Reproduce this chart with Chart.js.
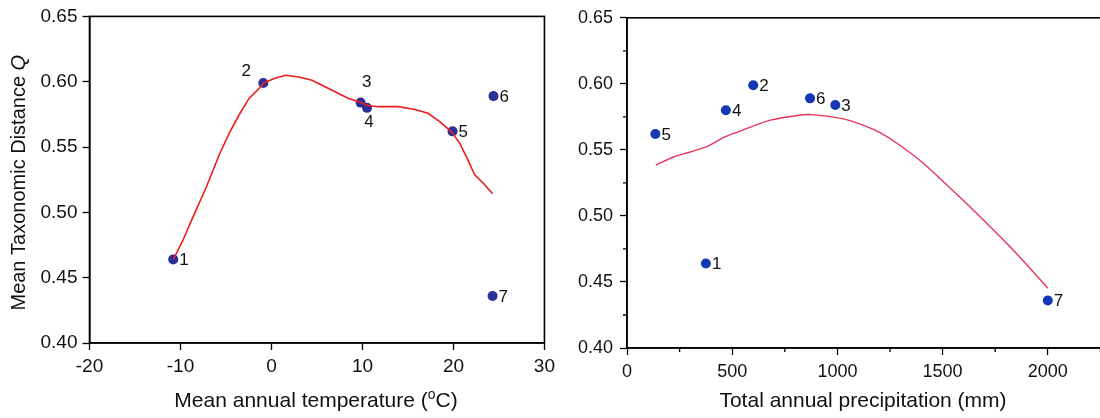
<!DOCTYPE html>
<html>
<head>
<meta charset="utf-8">
<script src="https://cdn.jsdelivr.net/npm/chart.js@4.4.1/dist/chart.umd.min.js"></script>
<style>
html,body{margin:0;padding:0;background:#fff;overflow:hidden;width:1100px;height:418px;position:relative}
#left{position:absolute;left:0;top:0}
#right{position:absolute;left:560px;top:0}
</style>
</head>
<body>
<canvas id="left" width="560" height="418"></canvas>
<canvas id="right" width="620" height="418"></canvas>
<script>
// ---- data ----
const siteIds = ['1','2','3','4','5','6','7'];
const siteQ = [0.464,0.599,0.584,0.580,0.562,0.589,0.436];
const siteTemp = [-10.8,-0.9,9.8,10.5,19.9,24.4,24.3];
const sitePrecip = [375,600,990,470,135,870,2000];

// fitted curves
const tempCurveX = [-10.76,-9.75,-8.66,-7.19,-5.74,-4.64,-3.55,-2.46,-1.37,-0.82,0.46,1.55,3.0,4.46,6.28,8.47,9.7,10.6,11.75,13.94,15.76,17.21,18.49,19.76,20.68,21.58,22.31,23.41,24.3];
const tempCurveQ = [0.4644,0.4783,0.496,0.5188,0.5441,0.5606,0.5747,0.5872,0.5948,0.5993,0.6029,0.6049,0.6036,0.6011,0.5948,0.5872,0.5845,0.5818,0.5809,0.5809,0.5788,0.5758,0.5694,0.5618,0.553,0.5403,0.529,0.5213,0.5142];
const precCurveX = [137,224,305,387,460,534,599,681,795,877,1024,1122,1203,1285,1400,1500,1600,1700,1800,1900,2000];
const precCurveQ = [0.5385,0.5448,0.5486,0.553,0.5594,0.564,0.568,0.5725,0.5757,0.5767,0.5737,0.5687,0.563,0.5548,0.541,0.5265,0.5115,0.496,0.480,0.463,0.4453];

// axis ticks
const qTicks = [0.40,0.45,0.50,0.55,0.60,0.65];
const tempTicks = [-20,-10,0,10,20,30];
const precTicks = [0,500,1000,1500,2000,2500];

const FONT = 'Arial, "Liberation Sans", Helvetica, sans-serif';

// label placement (dx, dy from point centre, align)
const leftLabelPos = [
  [6,1,'left'],[-17,-12,'center'],[6,-20,'center'],[2,14,'center'],
  [6,1,'left'],[6,1,'left'],[6,1,'left']
];
const rightLabelPos = siteIds.map(() => [6,1,'left']);

function pts(xs, ys){ return xs.map((x,i)=>({x, y:ys[i]})); }

// frame, minor ticks, point labels and titles
const decor = {
  id:'decor',
  afterDraw(chart, args, o){
    const {ctx, chartArea:a, scales} = chart;
    ctx.save();
    ctx.strokeStyle = '#000';
    ctx.lineWidth = o.lw;
    ctx.strokeRect(a.left, a.top, a.right-a.left, a.bottom-a.top);

    if(o.minor){
      ctx.lineWidth = 1.3;
      const xt = scales.x.ticks, yt = scales.y.ticks;
      ctx.beginPath();
      for(let i=0;i<xt.length-1;i++){
        const px = scales.x.getPixelForValue((xt[i].value+xt[i+1].value)/2);
        ctx.moveTo(px, a.bottom); ctx.lineTo(px, a.bottom+4);
      }
      for(let i=0;i<yt.length-1;i++){
        const py = scales.y.getPixelForValue((yt[i].value+yt[i+1].value)/2);
        ctx.moveTo(a.left, py); ctx.lineTo(a.left-4, py);
      }
      ctx.stroke();
    }

    // point labels
    const meta = chart.getDatasetMeta(1);
    ctx.fillStyle = '#111';
    ctx.font = o.labelFont + 'px ' + FONT;
    ctx.textBaseline = 'middle';
    meta.data.forEach((el,i)=>{
      const p = o.labelPos[i];
      ctx.textAlign = p[2];
      ctx.fillText(siteIds[i], el.x + p[0], el.y + p[1]);
    });

    // x title with optional superscript
    ctx.textAlign = 'left';
    ctx.textBaseline = 'alphabetic';
    const parts = o.xTitle;
    let w = 0;
    parts.forEach(s=>{
      ctx.font = (s.sup ? 14 : 21) + 'px ' + FONT;
      w += ctx.measureText(s.t).width;
    });
    let x = o.xTitleX - w/2;
    parts.forEach(s=>{
      ctx.font = (s.sup ? 14 : 21) + 'px ' + FONT;
      ctx.fillText(s.t, x, o.xTitleY - (s.sup ? 8 : 0));
      x += ctx.measureText(s.t).width;
    });

    // y title (rotated)
    if(o.yTitle){
      ctx.save();
      ctx.translate(o.yTitleX, (a.top+a.bottom)/2 + 3);
      ctx.rotate(-Math.PI/2);
      let tw = 0;
      o.yTitle.forEach(s=>{
        ctx.font = (s.it ? 'italic ' : '') + '20px ' + FONT;
        tw += ctx.measureText(s.t).width;
      });
      let tx = -tw/2;
      ctx.textBaseline = 'middle';
      o.yTitle.forEach(s=>{
        ctx.font = (s.it ? 'italic ' : '') + '20px ' + FONT;
        ctx.fillText(s.t, tx, 0);
        tx += ctx.measureText(s.t).width;
      });
      ctx.restore();
    }
    ctx.restore();
  }
};

function axis(min, max, ticks, fmt, size, fontPx, pad, lw){
  return {
    type:'linear', min, max,
    afterBuildTicks: s => { s.ticks = ticks.map(v=>({value:v})); },
    afterFit: s => { if(s.isHorizontal()) s.height = size; else s.width = size; },
    ticks:{ color:'#111', font:{family:FONT, size:fontPx}, padding:pad, callback:fmt, maxRotation:0, autoSkip:false },
    grid:{ drawOnChartArea:false, drawTicks:true, tickLength:7, tickColor:'#000', tickWidth:1.3 },
    border:{ display:true, color:'#000', width:lw }
  };
}

function makeChart(id, cfg){
  return new Chart(document.getElementById(id), {
    type:'scatter',
    data:{ datasets:[
      { data:cfg.curve, showLine:true, borderColor:cfg.lineColor, borderWidth:cfg.lineWidth,
        pointRadius:0, tension:cfg.tension, fill:false },
      { data:cfg.points, pointRadius:5, pointHoverRadius:5, backgroundColor:cfg.dotColor,
        borderColor:cfg.dotColor, borderWidth:0, showLine:false }
    ]},
    options:{
      responsive:false, animation:false, events:[],
      layout:{ padding:cfg.padding },
      plugins:{ legend:{display:false}, tooltip:{enabled:false}, decor:cfg.decor },
      scales:{ x:cfg.x, y:cfg.y }
    },
    plugins:[decor]
  });
}

const fmtQ = v => v.toFixed(2);
const fmtN = v => String(v);

makeChart('left', {
  curve: pts(tempCurveX, tempCurveQ),
  points: pts(siteTemp, siteQ),
  lineColor:'#ee1d1d', lineWidth:1.6, dotColor:'#2c2f96', tension:0,
  padding:{ top:14, right:13, left:0, bottom:0 },
  x: axis(-20, 30, tempTicks, fmtN, 75, 19, 5, 1.6),
  y: axis(0.40, 0.65, qTicks, fmtQ, 89.5, 19, 5, 1.6),
  decor:{ lw:1.6, minor:false, labelPos:leftLabelPos, labelFont:17,
    xTitle:[{t:'Mean annual temperature ('},{t:'o',sup:true},{t:'C)'}],
    xTitleX:316, xTitleY:407,
    yTitle:[{t:'Mean Taxonomic Distance '},{t:'Q',it:true}], yTitleX:19 }
});

makeChart('right', {
  curve: pts(precCurveX, precCurveQ),
  points: pts(sitePrecip, siteQ),
  lineColor:'#e8355a', lineWidth:1.4, dotColor:'#1538b4', tension:0.3,
  padding:{ top:17, right:27, left:0, bottom:0 },
  x: axis(0, 2500, precTicks, fmtN, 70, 18, 6, 1.6),
  y: axis(0.40, 0.65, qTicks, fmtQ, 67, 18, 7, 1.6),
  decor:{ lw:1.6, minor:true, labelPos:rightLabelPos, labelFont:17,
    xTitle:[{t:'Total annual precipitation (mm)'}],
    xTitleX:303, xTitleY:407 }
});
</script>
</body>
</html>
